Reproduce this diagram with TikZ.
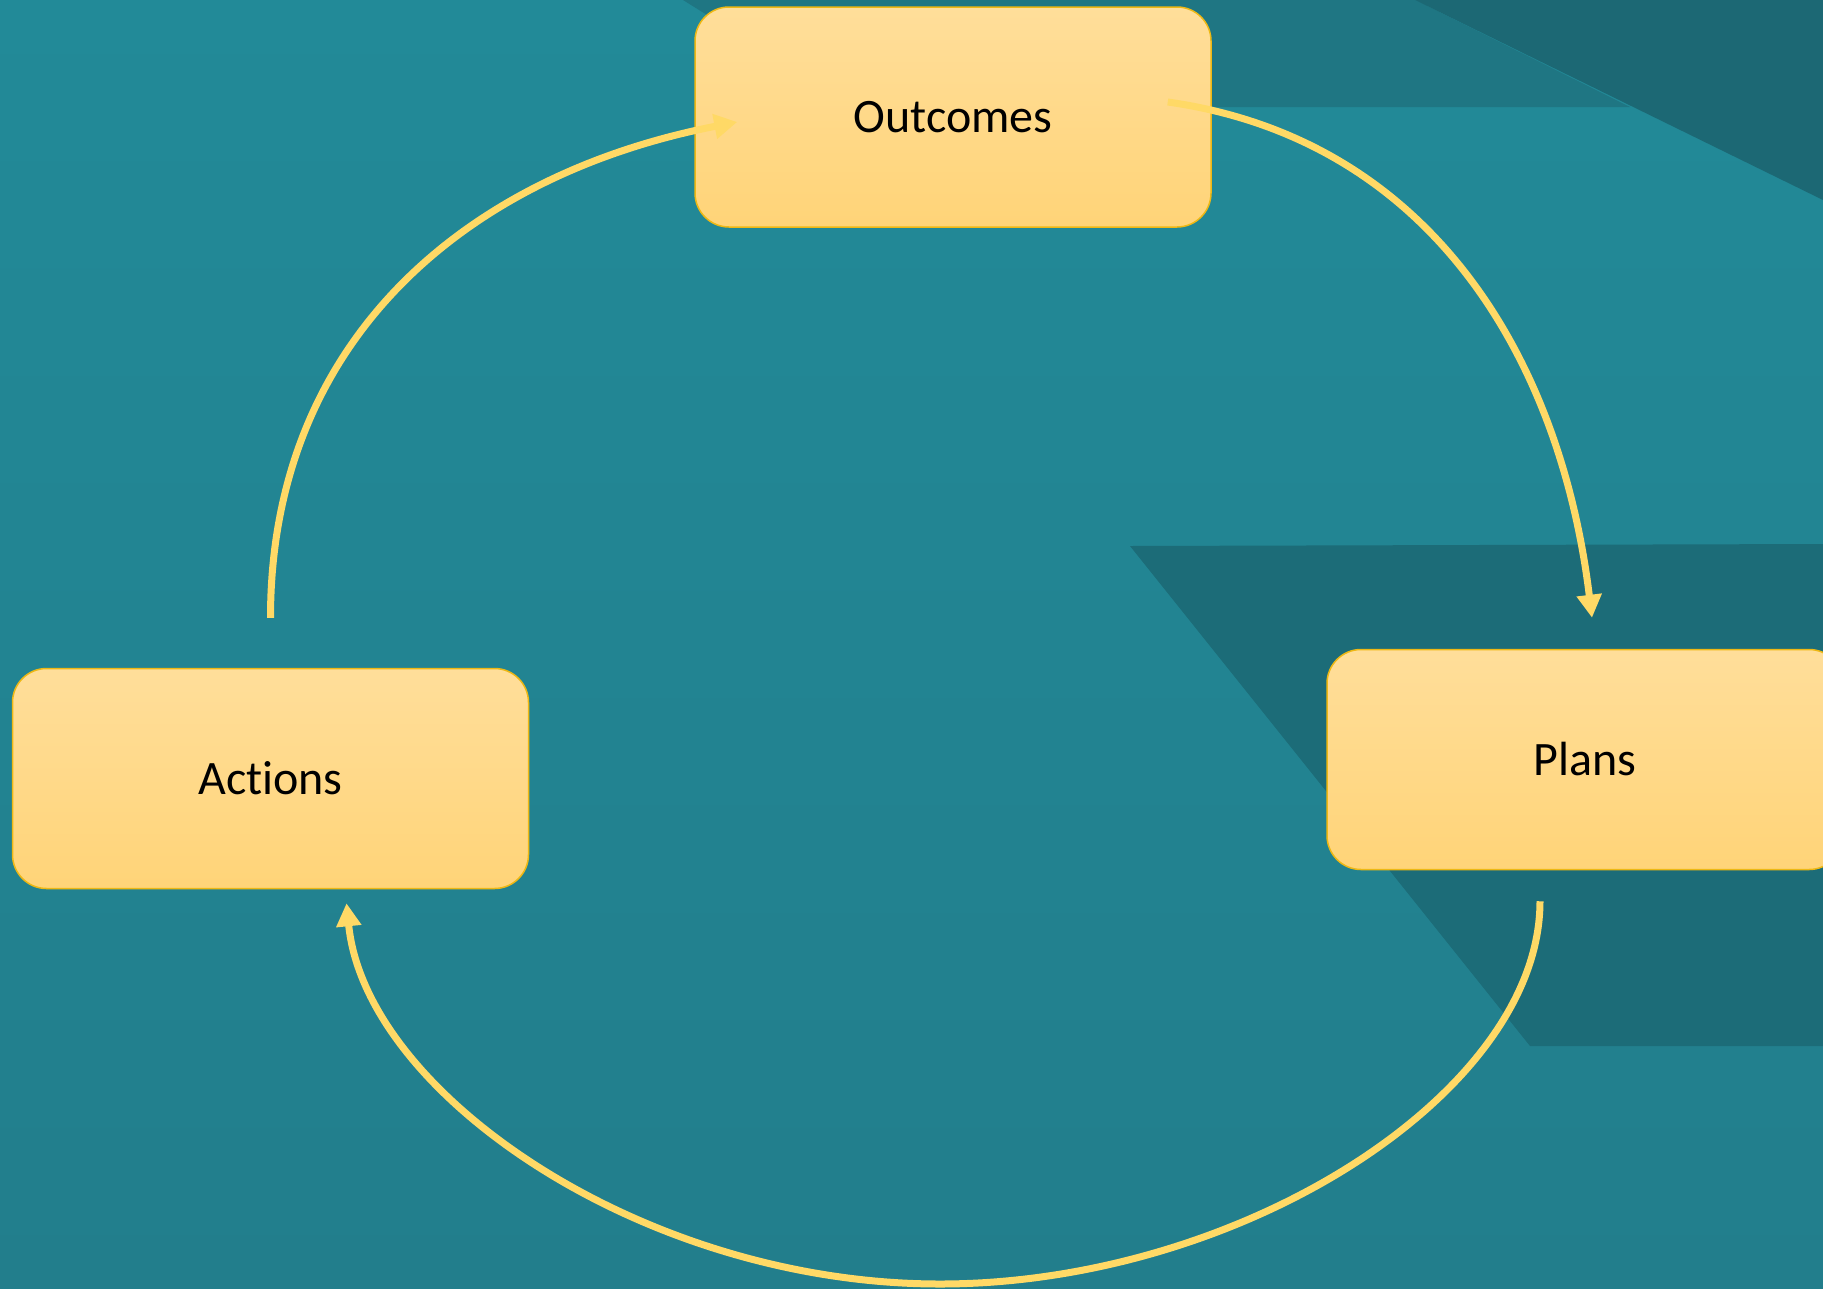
\documentclass[tikz,border=0pt]{standalone}
\usepackage{fontspec}
\setmainfont{Carlito}[Ligatures=NoCommon]
\usetikzlibrary{arrows.meta,calc}
\definecolor{bgtop}{RGB}{34,138,152}
\definecolor{bgbot}{RGB}{34,126,140}
\definecolor{bandmid}{RGB}{31,118,131}
\definecolor{banddark}{RGB}{28,104,116}
\definecolor{shadedark}{RGB}{28,108,120}
\definecolor{boxtop}{RGB}{255,222,154}
\definecolor{boxbot}{RGB}{255,212,120}
\definecolor{boxline}{RGB}{238,184,20}
\definecolor{arrowcol}{RGB}{255,217,102}
\tikzset{
  cyclebox/.style={draw=boxline, line width=1.5pt, rounded corners=34pt,
    top color=boxtop, bottom color=boxbot, minimum width=516pt,
    minimum height=220pt, inner sep=0pt, text=black,
    font=\fontsize{48}{58}\selectfont},
  cyclearrow/.style={draw=arrowcol, line width=7pt,
    -{Triangle[length=23pt,width=24pt]}}
}
\begin{document}
\begin{tikzpicture}[x=1pt,y=-1pt]
\useasboundingbox (0,0) rectangle (1823,1288);
\clip (0,0) rectangle (1823,1288);
% background
\fill[top color=bgtop, bottom color=bgbot] (0,0) rectangle (1823,1288);
\fill[bandmid] (683,0) -- (855,107) -- (1630,107) -- (1415,0) -- cycle;
\fill[banddark] (1415,0) -- (1823,0) -- (1823,200) -- cycle;
\fill[shadedark] (1130,546) -- (1823,544) -- (1823,1046) -- (1530,1046) -- cycle;
% nodes
\node[cyclebox] (out) at (953,117) {Outcomes};
\node[cyclebox] (act) at (270.5,778.5) {Actions};
\node[cyclebox] (plans) at (1585,759.5) {Plans};
% connector end points
\coordinate (a1s) at ($(out.east)+(-44,-15)$);
\coordinate (a1e) at ($(plans.north)+(7,-31)$);
\coordinate (a2s) at ($(act.north)+(0,-50)$);
\coordinate (a2e) at ($(out.west)+(43,5)$);
\coordinate (a3s) at ($(plans.south)+(-45,31)$);
\coordinate (a3e) at ($(act.south)+(76,14)$);
\coordinate (bot) at (940,1284);
% connectors
\draw[cyclearrow] (a1s) .. controls ($(a1s)+(261,37)$) and ($(a1e)+(-32,-262)$) .. (a1e);
\draw[cyclearrow] (a2s) .. controls ($(a2s)+(0,-277)$) and ($(a2e)+(-272,53)$) .. (a2e);
\draw[cyclearrow] (a3s) .. controls ($(a3s)+(0,192)$) and ($(bot)+(300,0)$) .. (bot)
  .. controls ($(bot)+(-297,0)$) and ($(a3e)+(19,190)$) .. (a3e);
\end{tikzpicture}
\end{document}
